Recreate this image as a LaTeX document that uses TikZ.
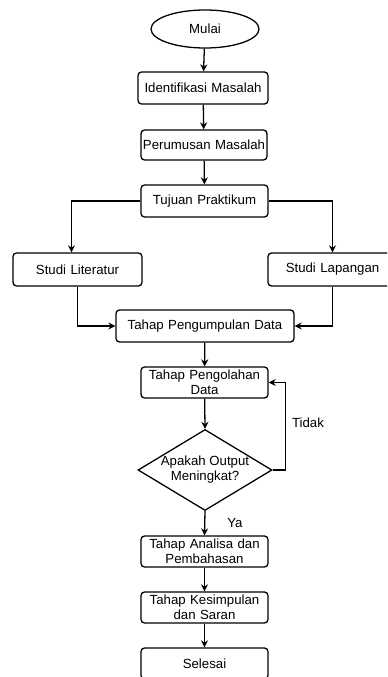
\documentclass[tikz,border=0pt]{standalone}
\usepackage{fontspec}
\setmainfont{Liberation Sans}
\usetikzlibrary{shapes.geometric, arrows.meta, calc}
\tikzstyle{kotak} = [rectangle, rounded corners=3pt, draw=black, line width=1.1pt, minimum width=3.81cm, minimum height=0.93cm, inner sep=0pt, align=center, text width=3.6cm]
\tikzstyle{mulaibox} = [ellipse, draw=black, line width=1.1pt, minimum width=3.24cm, minimum height=1.14cm, inner sep=0pt]
\tikzstyle{keputusan} = [diamond, draw=black, line width=1.1pt, shape aspect=1.65, minimum width=4.02cm, minimum height=2.43cm, inner sep=0pt, align=center]
\tikzstyle{panah} = [line width=1.1pt, -{Stealth[length=2.1mm, width=2.1mm]}]
\tikzstyle{garis} = [line width=1.1pt]

\begin{document}
\begin{tikzpicture}[x=0.03cm, y=-0.03cm, font=\fontsize{11.3}{12.8}\selectfont]
  \clip (0,0) rectangle (387,677);
  % alur utama
  \node[mulaibox] (mulai) at (205,29) {Mulai};
  \node[kotak, minimum width=3.9cm, minimum height=0.96cm, text width=3.8cm] (identifikasi) at (203,88) {Identifikasi Masalah};
  \node[kotak, minimum width=3.78cm, minimum height=0.9cm, text width=3.78cm] (perumusan) at (204,145) {Perumusan Masalah};
  \node[kotak, minimum height=0.96cm] (tujuan) at (204.5,201) {Tujuan Praktikum};
  \node[kotak, minimum width=3.87cm, minimum height=0.99cm] (literatur) at (77.5,269.5) {Studi Literatur};
  \node[kotak, minimum width=3.87cm, minimum height=0.99cm] (lapangan) at (332.5,269.5) {Studi Lapangan};
  \node[kotak, minimum width=5.34cm, minimum height=0.96cm, text width=5.2cm] (pengumpulan) at (205,326) {Tahap Pengumpulan Data};
  \node[kotak] (pengolahan) at (204.5,382.5) {Tahap Pengolahan\\Data};
  \node[keputusan] (output) at (205,470) {Apakah Output\\Meningkat?};
  \node[kotak] (analisa) at (204.5,551.5) {Tahap Analisa dan\\Pembahasan};
  \node[kotak] (kesimpulan) at (204.5,607.5) {Tahap Kesimpulan\\dan Saran};
  \node[kotak] (selesai) at (204.5,663.5) {Selesai};

  \node (tidak) at (308,423) {Tidak};
  \node (ya) at (235,523) {Ya};

  % panah
  \draw[panah] (mulai) -- (identifikasi);
  \draw[panah] (identifikasi) -- (perumusan);
  \draw[panah] (perumusan) -- (tujuan);
  \draw[panah] (tujuan.west) -| ([xshift=-0.18cm]literatur.north);
  \draw[panah] (tujuan.east) -| (lapangan.north);
  \draw[panah] (literatur.south) |- (pengumpulan.west);
  \draw[panah] (lapangan.south) |- (pengumpulan.east);
  \draw[panah] (pengumpulan) -- (pengolahan);
  \draw[panah] (pengolahan) -- (output.north);
  \draw[panah] (output.east) -- ++(13,0) |- (pengolahan.east);
  \draw[panah] (output.south) -- (analisa.north);
  \draw[panah] (analisa) -- (kesimpulan);
  \draw[panah] (kesimpulan) -- (selesai);
\end{tikzpicture}
\end{document}
